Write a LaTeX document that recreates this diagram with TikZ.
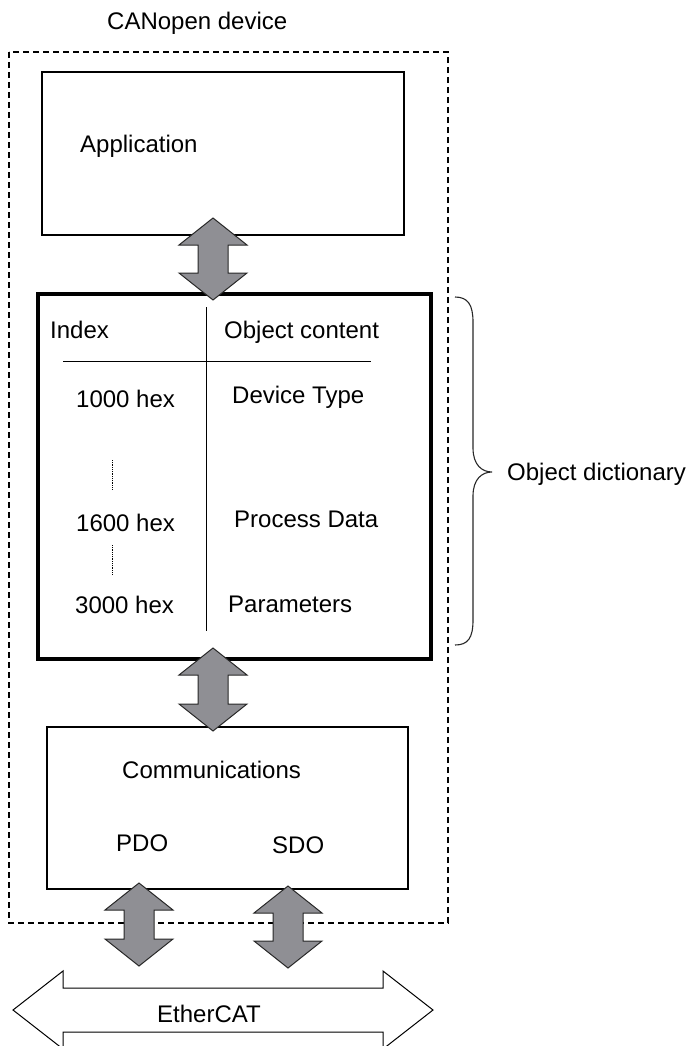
\documentclass[tikz,border=0pt]{standalone}
\usepackage{fontspec}
\setmainfont{Liberation Sans}
\definecolor{arrgray}{RGB}{143,143,148}
\definecolor{linegray}{RGB}{40,40,40}
\tikzset{
  lbl/.style={anchor=base west, inner sep=0pt, font=\fontsize{24}{28}\selectfont},
  thinbox/.style={draw, line width=1.8pt, inner sep=0pt, anchor=north west},
  thickbox/.style={draw, line width=3.5pt, inner sep=0pt, anchor=north west},
  devbox/.style={draw, line width=1.3pt, dash pattern=on 6pt off 4pt},
  arrfill/.style={fill=arrgray, draw=linegray, line width=1pt, line join=miter},
  ethfill/.style={fill=white, draw=black, line width=1pt, line join=miter},
  tableline/.style={draw=black, line width=1pt},
  dotline/.style={draw=black, line width=0.9pt, dash pattern=on 0.8pt off 1pt},
  bracestyle/.style={draw=linegray, line width=1.1pt}
}
\newcommand{\vdarr}[3]{%
  \filldraw[arrfill] (#1,#2) -- (#1+34,#2+27) -- (#1+15,#2+27) -- (#1+15,#3-27)
    -- (#1+34,#3-27) -- (#1,#3) -- (#1-34,#3-27) -- (#1-15,#3-27)
    -- (#1-15,#2+27) -- (#1-34,#2+27) -- cycle;}
\begin{document}
\begin{tikzpicture}[x=1pt, y=-1pt]
\useasboundingbox (0,0) rectangle (690,1046);
% outer device frame
\draw[devbox] (9,52) rectangle (448,923);
\node[lbl] (devlbl) at (107,30) {CANopen device};
% application
\node[thinbox, minimum width=362pt, minimum height=163pt] (app) at (41,71) {};
\node[lbl] (applbl) at (80,153) {Application};
% object dictionary
\node[thickbox, minimum width=393pt, minimum height=365pt] (od) at (36,292) {};
\coordinate (vtop) at (206,307);
\coordinate (vbot) at (206,631);
\coordinate (hl) at (63,361);
\coordinate (hr) at (371,361);
\draw[tableline] (vtop) -- (vbot);
\draw[tableline] (hl) -- (hr);
\node[lbl] (idx) at (50,338) {Index};
\node[lbl] (oc) at (224,338) {Object content};
\node[lbl] (i1) at (76,407) {1000 hex};
\node[lbl] (c1) at (232,403) {Device Type};
\node[lbl] (i2) at (76,531) {1600 hex};
\node[lbl] (c2) at (234,527) {Process Data};
\node[lbl] (i3) at (75,613) {3000 hex};
\node[lbl] (c3) at (228,612) {Parameters};
\coordinate (d1a) at (112,460);
\coordinate (d1b) at (112,489);
\coordinate (d2a) at (112,545);
\coordinate (d2b) at (112,574);
\draw[dotline] (d1a) -- (d1b);
\draw[dotline] (d2a) -- (d2b);
% brace
\coordinate (btop) at (455,297);
\coordinate (btip) at (492,472);
\coordinate (bbot) at (455,645);
\draw[bracestyle] (btop) .. controls (468,297) and (473,305) .. (473,322)
  -- (473,448) .. controls (473,465) and (482,472) .. (btip)
  .. controls (482,472) and (473,479) .. (473,496)
  -- (473,620) .. controls (473,638) and (468,645) .. (bbot);
\node[lbl] (odlbl) at (507,480) {Object dictionary};
% communications
\node[thinbox, minimum width=361pt, minimum height=162pt] (comm) at (46,726) {};
\node[lbl] (commlbl) at (122,778) {Communications};
\node[lbl] (pdo) at (116,851) {PDO};
\node[lbl] (sdo) at (272,853) {SDO};
% block arrows
\vdarr{213}{218}{300}
\vdarr{213}{648}{731}
\vdarr{139}{883}{966}
\vdarr{288}{886}{968}
% EtherCAT
\filldraw[ethfill] (13,1010) -- (63,971) -- (63,988) -- (383,988) -- (383,971)
  -- (433,1010) -- (383,1049) -- (383,1032) -- (63,1032) -- (63,1049) -- cycle;
\node[lbl] (eth) at (157,1022) {EtherCAT};
\end{tikzpicture}
\end{document}
